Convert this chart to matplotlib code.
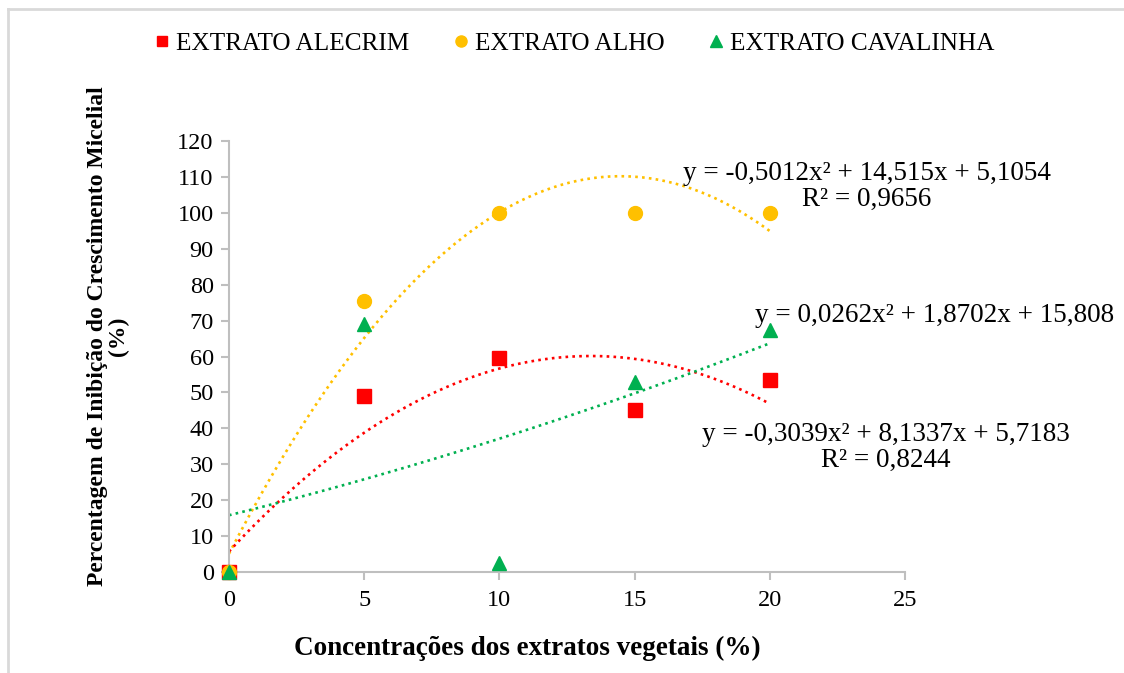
import numpy as np
import matplotlib
matplotlib.use("Agg")
import matplotlib.pyplot as plt
from matplotlib.lines import Line2D

plt.rcParams['font.family'] = ['Liberation Serif', 'DejaVu Serif']

# concentrations (%)
conc = [0, 5, 10, 15, 20]

alecrim = [0, 49, 59.5, 45, 53.5]
alho = [0, 75.5, 100, 100, 100]
cavalinha = [0, 69, 2.5, 53, 67.5]

# trendline coefficients as printed on the chart (a, b, c)
coef_alecrim = [-0.3039, 8.1337, 5.7183]
coef_alho = [-0.5012, 14.515, 5.1054]
coef_cavalinha = [0.0262, 1.8702, 15.808]

eq_alecrim = "y = -0,3039x\u00b2 + 8,1337x + 5,7183\nR\u00b2 = 0,8244"
eq_alho = "y = -0,5012x\u00b2 + 14,515x + 5,1054\nR\u00b2 = 0,9656"
eq_cavalinha = "y = 0,0262x\u00b2 + 1,8702x + 15,808"

RED = '#FF0000'
ORANGE = '#FFC000'
GREEN = '#00B050'
GRAY = '#BFBFBF'


def main():
    fig = plt.figure(figsize=(11.24, 6.73), dpi=100)
    ax = fig.add_axes([0.2037, 0.150, 0.6015, 0.6405])

    xs = np.linspace(0, 20, 200)
    dots = (0, (1, 1.6))
    ax.plot(xs, np.polyval(coef_alho, xs), color=ORANGE, lw=1.9, ls=dots, zorder=2)
    ax.plot(xs, np.polyval(coef_alecrim, xs), color=RED, lw=1.9, ls=dots, zorder=2)
    ax.plot(xs, np.polyval(coef_cavalinha, xs), color=GREEN, lw=1.9, ls=dots, zorder=2)

    ax.plot(conc, alecrim, 's', color=RED, ms=9.5, ls='none', clip_on=False,
            zorder=3, label='EXTRATO ALECRIM')
    ax.plot(conc, alho, 'o', color=ORANGE, ms=10, ls='none', clip_on=False,
            zorder=3, label='EXTRATO ALHO')
    ax.plot(conc, cavalinha, '^', color=GREEN, ms=10.5, ls='none', clip_on=False,
            zorder=4, label='EXTRATO CAVALINHA')

    ax.set_xlim(0, 25)
    ax.set_ylim(0, 120)
    ax.set_xticks(range(0, 26, 5))
    ax.set_yticks(range(0, 121, 10))

    for s in ['top', 'right']:
        ax.spines[s].set_visible(False)
    for s in ['left', 'bottom']:
        ax.spines[s].set_color(GRAY)
        ax.spines[s].set_linewidth(1.5)
    ax.tick_params(axis='both', colors=GRAY, length=6, width=1.5,
                   labelcolor='black', labelsize=17.5)
    ax.tick_params(axis='x', pad=7)
    ax.tick_params(axis='y', pad=5)

    ax.text(23.6, 107.3, eq_alho, fontsize=19.5, ha='center', va='center',
            linespacing=1.05, multialignment='center')
    ax.text(26.1, 71.5, eq_cavalinha, fontsize=19.5, ha='center', va='center')
    ax.text(24.3, 34.7, eq_alecrim, fontsize=19.5, ha='center', va='center',
            linespacing=1.05, multialignment='center')

    fig.text(0.469, 0.037, 'Concentrações dos extratos vegetais (%)',
             fontsize=19.5, fontweight='bold', ha='center', va='center')
    fig.text(0.096, 0.50, 'Percentagem de Inibição do Crescimento Micelial\n(%)',
             fontsize=17, fontweight='bold', ha='center', va='center',
             rotation=90, multialignment='center', linespacing=1.0)

    fig.legend(loc='center', bbox_to_anchor=(0.509, 0.935), ncol=3,
               frameon=False, fontsize=18.2, handletextpad=0.05,
               columnspacing=1.55, handlelength=1.0, markerscale=0.8)

    # light frame edges of the chart area
    fig.add_artist(Line2D([0.0075, 1], [0.986, 0.986], color='#D9D9D9', lw=2,
                          transform=fig.transFigure))
    fig.add_artist(Line2D([0.0075, 0.0075], [0, 0.986], color='#D9D9D9', lw=2,
                          transform=fig.transFigure))

    fig.savefig('out.png', dpi=100)


if __name__ == "__main__":
    main()
